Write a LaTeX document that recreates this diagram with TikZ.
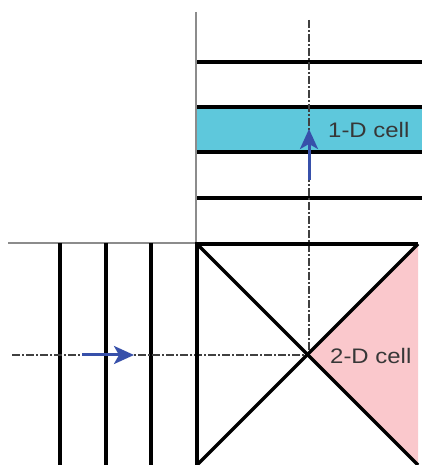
\documentclass[tikz,border=0pt]{standalone}
\usepackage{fontspec}
\setmainfont{Liberation Sans}
\usetikzlibrary{arrows.meta}
\definecolor{cellblue}{RGB}{94,200,220}
\definecolor{cellpink}{RGB}{250,200,204}
\definecolor{flowblue}{RGB}{55,80,170}
\definecolor{labelgray}{RGB}{55,55,55}
\tikzset{
  edge/.style={line width=3.4pt,black},
  guide/.style={line width=1.5pt,black!45},
  axis/.style={line width=1.2pt,black!75,dash pattern=on 8pt off 2pt on 2pt off 2pt},
  flow/.style={line width=3pt,flowblue,-{Stealth[length=20pt,width=18pt,inset=5pt]}},
  celltext/.style={text=labelgray,font=\fontsize{21}{25}\selectfont,inner sep=0pt,anchor=west}
}
\begin{document}
\begin{tikzpicture}[x=1pt,y=1pt]
    \useasboundingbox (0,0) rectangle (422,465);

    % corners of the 2-D cell
    \coordinate (tl) at (197,221);
    \coordinate (tr) at (418,221);
    \coordinate (br) at (418,0);
    \coordinate (bl) at (197,0);
    \coordinate (mid) at (309,110);

    % fills
    \fill[cellblue] (197,313) rectangle (422,358);
    \fill[cellpink] (mid) -- (tr) -- (br) -- cycle;

    % outer guides
    \draw[guide] (196,453) -- (196,222);
    \draw[guide] (8,222) -- (196,222);

    % 1-D layers
    \foreach \y in {403,358,313,267}
        \draw[edge] (197,\y) -- (422,\y);

    % vertical layers on the left
    \foreach \x in {60,106,151}
        \draw[edge] (\x,222) -- (\x,0);

    % axes
    \coordinate (vtop) at (309,445);
    \coordinate (hleft) at (12,110);
    \draw[axis] (vtop) -- (mid);
    \draw[axis] (hleft) -- (mid);

    % 2-D cell
    \draw[edge] (bl) -- (tl) -- (tr);
    \draw[edge] (tl) -- (br);
    \draw[edge] (tr) -- (bl);

    % flow directions
    \coordinate (upstart) at (309,285);
    \coordinate (upend) at (309,336);
    \coordinate (rstart) at (82,110);
    \coordinate (rend) at (134,110);
    \draw[flow] (upstart) -- (upend);
    \draw[flow] (rstart) -- (rend);

    % labels
    \node[celltext] (onecell) at (328,335) {\scalebox{1.14}[1]{1-D cell}};
    \node[celltext] (twocell) at (330,109) {\scalebox{1.14}[1]{2-D cell}};
\end{tikzpicture}
\end{document}
